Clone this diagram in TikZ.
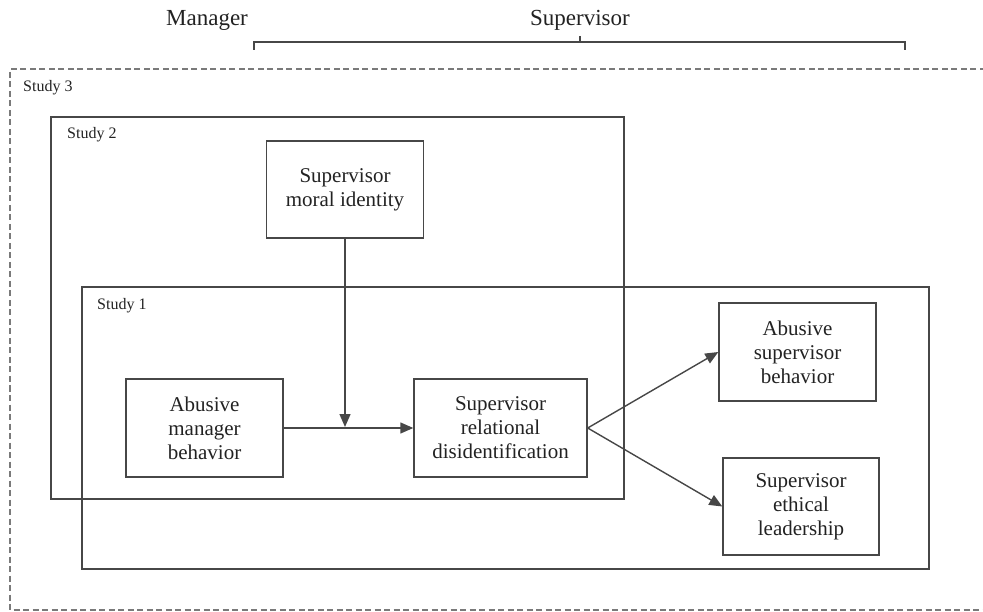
\documentclass[tikz,border=0pt]{standalone}
\usepackage{fontspec}
\setmainfont{Liberation Serif}
\usetikzlibrary{arrows.meta}
\definecolor{ln}{HTML}{474747}
\definecolor{dl}{HTML}{7A7A7A}
\definecolor{tx}{HTML}{222222}
\begin{document}
\begin{tikzpicture}[x=1pt,y=-1pt,
  box/.style={draw=ln,line width=1.4pt,align=center,text=tx,inner sep=0pt,
    font=\fontsize{21}{24}\selectfont},
  studybox/.style={draw=ln,line width=1.4pt,inner sep=0pt},
  studylabel/.style={anchor=west,text=tx,inner sep=0pt,font=\fontsize{16}{18}\selectfont},
  header/.style={text=tx,inner sep=0pt,font=\fontsize{23}{26}\selectfont},
  conn/.style={draw=ln,line width=1.4pt},
  arr/.style={conn,-{Triangle[length=13pt,width=11pt]}}]
\useasboundingbox (0,0) rectangle (983,612);
\begin{scope}
\clip (0,0) rectangle (983,612);
% study 3 dashed frame
\draw[dl,line width=1.6pt,dash pattern=on 6pt off 3.5pt] (995,69) -- (10,69) -- (10,610) -- (995,610);
\end{scope}
% header
\node[header] (mgr) at (207,20) {Manager};
\node[header] (sup) at (580,20) {Supervisor};
\coordinate (bl) at (254,50);
\coordinate (br) at (905,50);
\coordinate (bt) at (580,36);
\draw[conn,line width=1.5pt] (bl) -- (254,42) -- (905,42) -- (br);
\draw[conn,line width=1.5pt] (bt) -- (580,42);
% study frames
\node[studybox,minimum width=573pt,minimum height=382pt] (s2) at (337.5,308) {};
\node[studybox,minimum width=847pt,minimum height=282pt] (s1) at (505.5,428) {};
\node[studylabel] (l3) at (23,88) {Study 3};
\node[studylabel] (l2) at (67,135) {Study 2};
\node[studylabel] (l1) at (97,306) {Study 1};
% boxes
\node[box,minimum width=157pt,minimum height=97pt] (moral) at (345,189.5) {Supervisor\\moral identity};
\node[box,minimum width=157pt,minimum height=98pt] (mgrb) at (204.5,428) {Abusive\\manager\\behavior};
\node[box,minimum width=173pt,minimum height=98pt] (rel) at (500.5,428) {Supervisor\\relational\\disidentification};
\node[box,minimum width=157pt,minimum height=98pt] (abs) at (797.5,352) {Abusive\\supervisor\\behavior};
\node[box,minimum width=156pt,minimum height=97pt] (eth) at (801,506.5) {Supervisor\\ethical\\leadership};
% connectors
\coordinate (j) at (345,427);
\draw[arr] (moral.south) -- (j);
\draw[arr] (mgrb.east) -- (rel.west);
\draw[arr] (rel.east) -- (abs.west);
\draw[arr] (rel.east) -- (eth.west);
\end{tikzpicture}
\end{document}
